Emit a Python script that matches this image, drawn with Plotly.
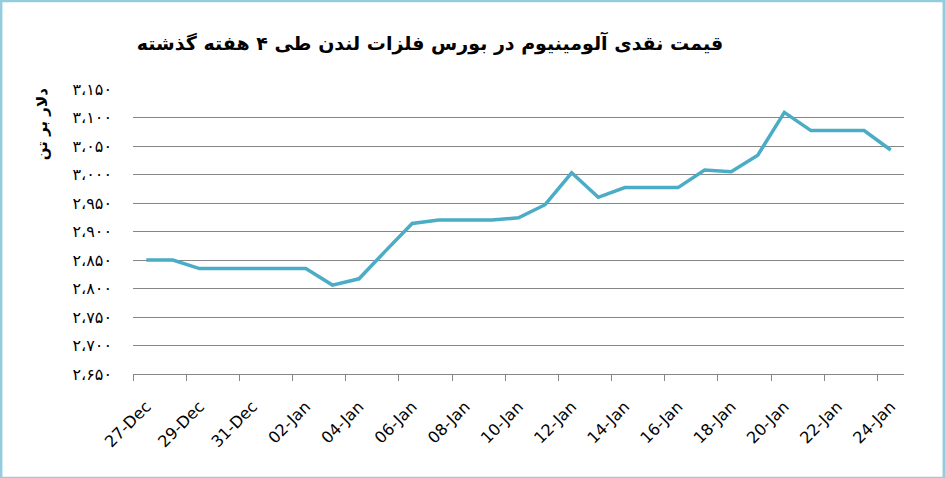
import pandas as pd
import plotly.graph_objects as go

# LME aluminium cash price, USD per tonne
dates = pd.date_range("2013-12-27", "2014-01-24", freq="D")
prices = [
    2850, 2850, 2835, 2835, 2835, 2835, 2835, 2806, 2817, 2866,
    2914, 2920, 2920, 2920, 2924, 2947, 3003, 2960, 2977, 2977,
    2977, 3008, 3005, 3034, 3109, 3077, 3077, 3077, 3043,
]

y_ticks = [2650, 2700, 2750, 2800, 2850, 2900, 2950, 3000, 3050, 3100, 3150]
y_labels = ["۲،۶۵۰", "۲،۷۰۰", "۲،۷۵۰", "۲،۸۰۰", "۲،۸۵۰", "۲،۹۰۰",
            "۲،۹۵۰", "۳،۰۰۰", "۳،۰۵۰", "۳،۱۰۰", "۳،۱۵۰"]

title_text = "قیمت نقدی آلومینیوم در بورس فلزات لندن طی ۴ هفته گذشته"
y_title = "دلار بر تن"

fig = go.Figure()
fig.add_trace(go.Scatter(
    x=dates,
    y=prices,
    mode="lines",
    line=dict(color="#4BACC6", width=3.5),
    hoverinfo="x+y",
))

fig.update_layout(
    width=945,
    height=478,
    margin=dict(l=133, r=41, t=89, b=104),
    paper_bgcolor="white",
    plot_bgcolor="white",
    showlegend=False,
    font=dict(family="DejaVu Sans", color="#000000"),
    title=dict(
        text="<b>" + title_text + "</b>",
        x=0.455, xanchor="center",
        y=0.91, yanchor="middle",
        font=dict(size=19, family="DejaVu Sans", color="#000000"),
    ),
)

half_day = pd.Timedelta(hours=12)
fig.update_xaxes(
    type="date",
    range=[dates[0] - half_day, dates[-1] + half_day],
    tickformat="%d-%b",
    tick0=dates[0],
    dtick=2 * 86400000,
    tickangle=-45,
    ticks="",
    ticklabelstandoff=16,
    tickfont=dict(size=16, family="DejaVu Sans", color="#000000"),
    showgrid=False,
    showline=True,
    linecolor="#868686",
    linewidth=1,
    minor=dict(
        ticks="outside",
        tick0=dates[0] - half_day,
        dtick=2 * 86400000,
        ticklen=6,
        tickcolor="#868686",
        showgrid=False,
    ),
)

fig.update_yaxes(
    range=[2650, 3150],
    tickvals=y_ticks,
    ticktext=y_labels,
    ticks="",
    ticklabelstandoff=20,
    tickfont=dict(size=16, family="DejaVu Sans", color="#000000"),
    showgrid=True,
    gridcolor="#868686",
    gridwidth=1,
    showline=False,
    zeroline=False,
)

fig.add_annotation(
    text="<b>" + y_title + "</b>",
    xref="paper", yref="paper",
    x=-0.118, y=1.01,
    xanchor="center", yanchor="top",
    textangle=-90,
    showarrow=False,
    font=dict(size=15, family="DejaVu Sans", color="#000000"),
)

# light blue frame around the whole picture
fig.add_shape(
    type="rect",
    xref="paper", yref="paper",
    x0=-0.1713, x1=1.0519,
    y0=-0.3662, y1=1.3099,
    line=dict(color="#93CDDD", width=3),
    fillcolor="rgba(0,0,0,0)",
    layer="above",
)

fig.write_html(
    "out.html",
    config={"displayModeBar": False},
    post_script="document.body.style.margin='0';",
)
